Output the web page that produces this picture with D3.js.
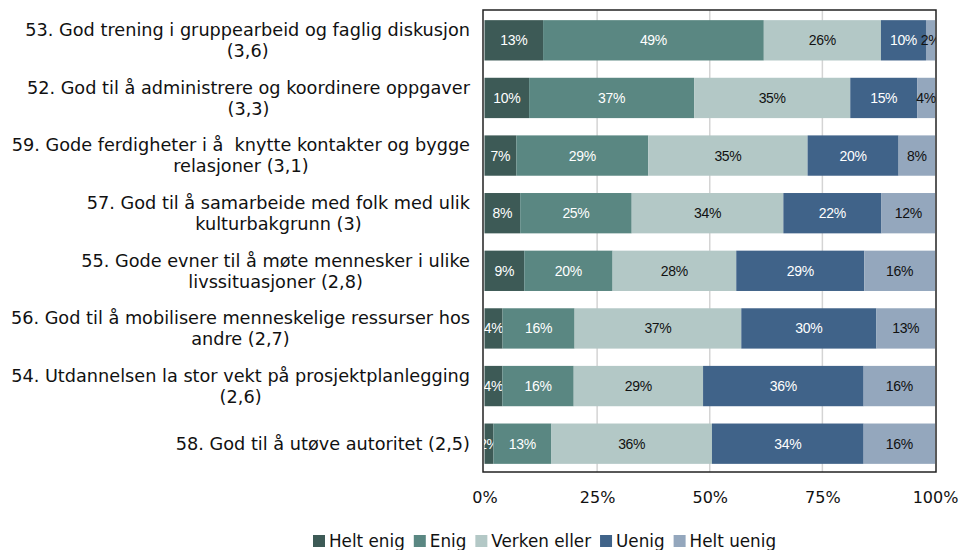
<!DOCTYPE html>
<html>
<head>
<meta charset="utf-8">
<script src="https://cdn.jsdelivr.net/npm/d3@7"></script>
<style>
  body { margin: 0; background: #fff; }
  svg { display: block; }
</style>
</head>
<body>
<svg id="chart" width="962" height="550"></svg>
<script>
const categories = [
  "53. God trening i gruppearbeid og faglig diskusjon (3,6)",
  "52. God til å administrere og koordinere oppgaver (3,3)",
  "59. Gode ferdigheter i å  knytte kontakter og bygge relasjoner (3,1)",
  "57. God til å samarbeide med folk med ulik kulturbakgrunn (3)",
  "55. Gode evner til å møte mennesker i ulike livssituasjoner (2,8)",
  "56. God til å mobilisere menneskelige ressurser hos andre (2,7)",
  "54. Utdannelsen la stor vekt på prosjektplanlegging (2,6)",
  "58. God til å utøve autoritet (2,5)"
]
const seriesNames = ["Helt enig", "Enig", "Verken eller", "Uenig", "Helt uenig"]
const heltEnig   = [13, 10, 7, 8, 9, 4, 4, 2]
const enig       = [49, 37, 29, 25, 20, 16, 16, 13]
const verken     = [26, 35, 35, 34, 28, 37, 29, 36]
const uenig      = [10, 15, 20, 22, 29, 30, 36, 34]
const heltUenig  = [2, 4, 8, 12, 16, 13, 16, 16]
const xTicks = [0, 0.25, 0.5, 0.75, 1]

const COLORS = ["#3d5a56", "#5a8782", "#b3c8c6", "#406389", "#94a7bd"]
const TEXT_COLORS = ["#fff", "#fff", "#111", "#fff", "#111"]

const allSeries = [heltEnig, enig, verken, uenig, heltUenig]
const table = categories.map((c, i) => {
  const row = { cat: c }
  seriesNames.forEach((s, k) => row[s] = allSeries[k][i])
  return row
})

const svg = d3.select("#chart")
const PLOT = { left: 483, right: 936, top: 10, bottom: 472 }

const x = d3.scaleLinear().domain([0, 1]).range([484.5, 935])
const y = d3.scaleBand().domain(categories)
  .range([PLOT.top + 1.5, PLOT.bottom + 0.5]).paddingInner(0.3).paddingOuter(0.15)

const stacked = d3.stack().keys(seriesNames).offset(d3.stackOffsetExpand)(table)

// gridlines
svg.append("g")
  .selectAll("line")
  .data(xTicks.slice(1, -1))
  .enter()
  .append("line")
  .attr("x1", d => x(d)).attr("x2", d => x(d))
  .attr("y1", PLOT.top).attr("y2", PLOT.bottom)
  .attr("stroke", "#d4d4d4")
  .attr("stroke-width", 1.5)

svg.append("clipPath").attr("id", "plotClip")
  .append("rect")
  .attr("x", PLOT.left + 1).attr("y", PLOT.top)
  .attr("width", PLOT.right - PLOT.left - 1).attr("height", PLOT.bottom - PLOT.top)

// bars
const layers = svg.append("g").attr("clip-path", "url(#plotClip)")
  .selectAll("g")
  .data(stacked)
  .enter()
  .append("g")

layers.selectAll("rect")
  .data(d => d)
  .enter()
  .append("rect")
  .attr("x", d => x(d[0]))
  .attr("width", d => x(d[1]) - x(d[0]))
  .attr("y", d => y(d.data.cat))
  .attr("height", y.bandwidth())
  .attr("fill", function () { return COLORS[d3.select(this.parentNode).datum().index] })

layers.selectAll("text")
  .data(d => d.map(v => ({ v, key: d.key, index: d.index })))
  .enter()
  .append("text")
  .attr("x", d => (x(d.v[0]) + x(d.v[1])) / 2)
  .attr("y", d => y(d.v.data.cat) + y.bandwidth() / 2)
  .attr("dy", "0.36em")
  .attr("text-anchor", "middle")
  .attr("font-family", "'Liberation Sans', Arial, sans-serif")
  .attr("font-size", "14px")
  .attr("letter-spacing", "-0.3px")
  .attr("fill", d => TEXT_COLORS[d.index])
  .text(d => d.v.data[d.key] + "%")

// plot border
svg.append("rect")
  .attr("x", PLOT.left).attr("y", PLOT.top)
  .attr("width", PLOT.right - PLOT.left).attr("height", PLOT.bottom - PLOT.top)
  .attr("fill", "none")
  .attr("stroke", "#222")
  .attr("stroke-width", 1.5)

// x axis labels
const xAxis = d3.axisBottom(x).tickValues(xTicks).tickFormat(d3.format(".0%")).tickSize(0).tickPadding(0)
const gx = svg.append("g")
  .attr("transform", `translate(0, ${PLOT.bottom + 20})`)
  .call(xAxis)
gx.select(".domain").remove()
gx.selectAll("text")
  .attr("font-family", "'DejaVu Sans', Verdana, sans-serif")
  .attr("font-size", "16px")
  .attr("fill", "#111")

// category labels, wrapped and centered as a block, right edge at 470
const LABEL_RIGHT = 470
const MAX_W = 466
const labelG = svg.append("g")
  .attr("font-family", "'DejaVu Sans', Verdana, sans-serif")
  .attr("font-size", "17.7px")
  .attr("fill", "#111")

categories.forEach(cat => {
  const t = labelG.append("text").attr("text-anchor", "middle")
  const words = cat.split(" ")
  const lines = []
  let line = ""
  const probe = labelG.append("text").style("white-space", "pre")
  words.forEach(w => {
    const test = line === "" ? w : line + " " + w
    probe.text(test)
    if (probe.node().getComputedTextLength() > MAX_W && line !== "") {
      lines.push(line)
      line = w
    } else {
      line = test
    }
  })
  lines.push(line)
  let maxW = 0
  lines.forEach(l => { probe.text(l); maxW = Math.max(maxW, probe.node().getComputedTextLength()) })
  probe.remove()
  const cx = LABEL_RIGHT - maxW / 2
  const cy = y(cat) + y.bandwidth() / 2
  const LH = 21
  lines.forEach((l, i) => {
    t.append("tspan")
      .attr("x", cx)
      .attr("y", cy + (i - (lines.length - 1) / 2) * LH)
      .attr("dy", "0.35em")
      .style("white-space", "pre")
      .text(l)
  })
})

// legend
const legend = svg.append("g")
  .attr("font-family", "'DejaVu Sans', Verdana, sans-serif")
  .attr("font-size", "16.8px")
  .attr("fill", "#111")
let lx = 313
seriesNames.forEach((s, k) => {
  legend.append("rect")
    .attr("x", lx).attr("y", 535)
    .attr("width", 12).attr("height", 12)
    .attr("fill", COLORS[k])
  const txt = legend.append("text")
    .attr("x", lx + 16).attr("y", 541)
    .attr("dy", "0.35em")
    .text(s)
  lx += 16 + txt.node().getComputedTextLength() + 9
})
</script>
</body>
</html>
